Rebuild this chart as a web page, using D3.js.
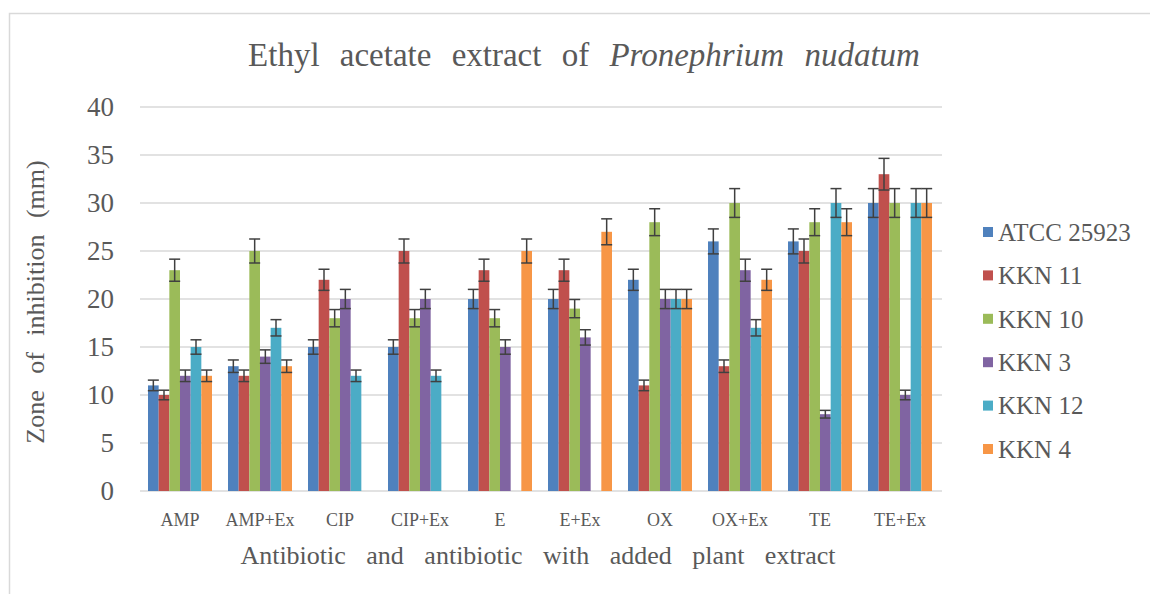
<!DOCTYPE html>
<meta charset="utf-8">
<head>
  <title>Ethyl acetate extract of Pronephrium nudatum</title>
</head>
<style>
body { margin: 0; background: #fff; }
svg text { font-family: "Liberation Serif", "Times New Roman", Tinos, "DejaVu Serif", serif; fill: #595959; }
</style>
<body>
<svg width="1150" height="594"></svg>
<script src="https://cdnjs.cloudflare.com/ajax/libs/d3/7.8.5/d3.min.js"></script>
<script>
// data (null = no bar)
var categories = ["AMP", "AMP+Ex", "CIP", "CIP+Ex", "E", "E+Ex", "OX", "OX+Ex", "TE", "TE+Ex"];
var seriesNames = ["ATCC 25923", "KKN 11", "KKN 10", "KKN 3", "KKN 12", "KKN 4"];
var atcc  = [11, 13, 15, 15, 20, 20, 22, 26, 26, 30];
var kkn11 = [10, 12, 22, 25, 23, 23, 11, 13, 25, 33];
var kkn10 = [23, 25, 18, 18, 18, 19, 28, 30, 28, 30];
var kkn3  = [12, 14, 20, 20, 15, 16, 20, 23, 8, 10];
var kkn12 = [15, 17, 12, 12, null, null, 20, 17, 30, 30];
var kkn4  = [12, 13, null, null, 25, 27, 20, 22, 28, 30];
var yTicks = [0, 5, 10, 15, 20, 25, 30, 35, 40];
var errPct = 0.05; // percentage error bars

var seriesValues = [atcc, kkn11, kkn10, kkn3, kkn12, kkn4];
var colors = ["#4F81BD", "#C0504D", "#9BBB59", "#8064A2", "#4BACC6", "#F79646"];
var serif = "'Liberation Serif', 'Times New Roman', serif";

var svg = d3.select("svg");

// outer chart border
svg.append("rect")
  .attr("x", 9.5).attr("y", 13.5)
  .attr("width", 1160).attr("height", 600)
  .attr("fill", "none").attr("stroke", "#D9D9D9").attr("stroke-width", 1.5);

var x0 = d3.scaleBand().domain(categories).range([140, 940]);
var x1 = d3.scaleBand().domain(d3.range(seriesNames.length))
  .range([0, x0.bandwidth()]).paddingOuter(0.75);
var y = d3.scaleLinear().domain([0, 40]).range([491, 107]);

// gridlines
svg.append("g")
  .selectAll("line")
  .data(yTicks)
  .enter()
  .append("line")
  .attr("x1", 140).attr("x2", 942)
  .attr("y1", function(d) { return y(d); })
  .attr("y2", function(d) { return y(d); })
  .attr("stroke", "#D9D9D9").attr("stroke-width", 1.5);

// y tick labels
svg.append("g")
  .selectAll("text")
  .data(yTicks)
  .enter()
  .append("text")
  .attr("x", 114)
  .attr("y", function(d) { return y(d); })
  .attr("dy", "0.35em")
  .attr("text-anchor", "end")
  .attr("font-family", serif)
  .style("font-size", "27px")
  .text(function(d) { return d; });

// bars
var groups = svg.append("g")
  .selectAll("g")
  .data(categories)
  .enter()
  .append("g")
  .attr("transform", function(d) { return "translate(" + x0(d) + ",0)"; });

var cells = groups.selectAll("g")
  .data(function(c, i) {
    return seriesValues.map(function(vals, s) { return { s: s, v: vals[i] }; })
      .filter(function(d) { return d.v != null; });
  })
  .enter()
  .append("g");

cells.append("rect")
  .attr("x", function(d) { return x1(d.s); })
  .attr("width", x1.bandwidth())
  .attr("y", function(d) { return y(d.v); })
  .attr("height", function(d) { return y(0) - y(d.v); })
  .attr("fill", function(d) { return colors[d.s]; });

// error bars
var eb = cells.append("g")
  .attr("stroke", "#404040")
  .attr("stroke-width", 1.5);
eb.append("line")
  .attr("x1", function(d) { return x1(d.s) + x1.bandwidth() / 2; })
  .attr("x2", function(d) { return x1(d.s) + x1.bandwidth() / 2; })
  .attr("y1", function(d) { return y(d.v * (1 + errPct)); })
  .attr("y2", function(d) { return y(d.v * (1 - errPct)); });
eb.selectAll(".cap")
  .data(function(d) { return [d.v * (1 + errPct), d.v * (1 - errPct)].map(function(v) { return { s: d.s, v: v }; }); })
  .enter()
  .append("line")
  .attr("class", "cap")
  .attr("x1", function(d) { return x1(d.s) + x1.bandwidth() / 2 - 5.5; })
  .attr("x2", function(d) { return x1(d.s) + x1.bandwidth() / 2 + 5.5; })
  .attr("y1", function(d) { return y(d.v); })
  .attr("y2", function(d) { return y(d.v); });

// x tick labels
svg.append("g")
  .selectAll("text")
  .data(categories)
  .enter()
  .append("text")
  .attr("x", function(d) { return x0(d) + x0.bandwidth() / 2; })
  .attr("y", 526)
  .attr("text-anchor", "middle")
  .attr("font-family", serif)
  .style("font-size", "18px")
  .text(function(d) { return d; });

// title
var title = svg.append("text")
  .attr("x", 584).attr("y", 66)
  .attr("text-anchor", "middle")
  .attr("font-family", serif)
  .style("font-size", "33px")
  .style("word-spacing", "12px");
title.append("tspan").text("Ethyl acetate extract of ");
title.append("tspan").style("font-style", "italic").text("Pronephrium nudatum");

// axis titles
svg.append("text")
  .attr("x", 538).attr("y", 564)
  .attr("text-anchor", "middle")
  .attr("font-family", serif)
  .style("font-size", "26px")
  .style("word-spacing", "14px")
  .text("Antibiotic and antibiotic with added plant extract");

svg.append("text")
  .attr("transform", "translate(44,302) rotate(-90)")
  .attr("text-anchor", "middle")
  .attr("font-family", serif)
  .style("font-size", "26px")
  .style("word-spacing", "10px")
  .text("Zone of inhibition (mm)");

// legend
var legend = svg.append("g")
  .selectAll("g")
  .data(seriesNames)
  .enter()
  .append("g")
  .attr("transform", function(d, i) { return "translate(983," + (232 + i * 43.4) + ")"; });
legend.append("rect")
  .attr("x", 0).attr("y", -5)
  .attr("width", 10).attr("height", 10)
  .attr("fill", function(d, i) { return colors[i]; });
legend.append("text")
  .attr("x", 15).attr("dy", "0.35em")
  .attr("font-family", serif)
  .style("font-size", "25px")
  .text(function(d) { return d; });
</script>
</body>
</html>
